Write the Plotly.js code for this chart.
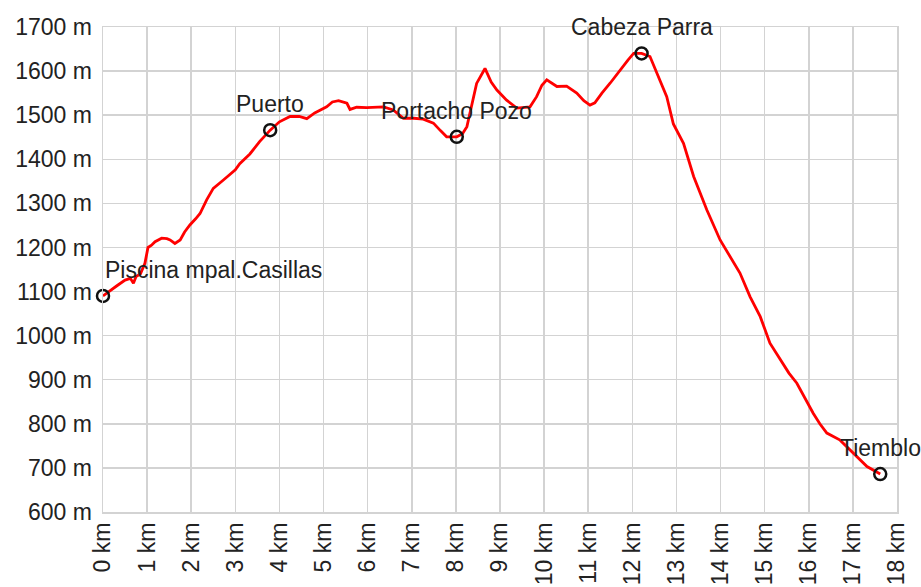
<!DOCTYPE html>
<html>
<head>
<meta charset="utf-8">
<script src="https://cdn.plot.ly/plotly-3.0.1.min.js"></script>
<style>html,body{margin:0;padding:0;background:#fff;}#chart{width:921px;height:587px;}</style>
</head>
<body>
<div id="chart"></div>
<script>
// Elevation profile (distance in km, elevation in m)
const distKm = [0.00,0.15,0.30,0.50,0.62,0.69,0.75,0.85,0.95,1.02,1.10,1.18,1.33,1.45,1.52,1.63,1.75,1.85,1.97,2.10,2.20,2.35,2.50,2.73,3.00,3.10,3.33,3.55,3.79,4.00,4.24,4.45,4.62,4.80,5.07,5.20,5.34,5.53,5.60,5.75,5.98,6.36,6.58,6.81,7.05,7.26,7.49,7.65,7.79,8.02,8.15,8.25,8.36,8.47,8.66,8.80,8.93,9.15,9.38,9.55,9.68,9.83,9.95,10.06,10.20,10.29,10.51,10.74,10.90,11.04,11.15,11.31,11.50,11.72,11.90,12.03,12.21,12.40,12.59,12.78,12.93,13.16,13.39,13.69,13.99,14.20,14.44,14.67,14.90,15.12,15.35,15.55,15.73,15.90,16.10,16.25,16.41,16.71,17.01,17.32,17.62];
const elevM = [1090,1102,1112,1126,1130,1119,1134,1140,1164,1200,1205,1213,1221,1220,1217,1209,1217,1235,1251,1265,1277,1308,1334,1353,1376,1390,1412,1440,1466,1485,1497,1497,1492,1505,1519,1530,1533,1527,1513,1518,1517,1519,1512,1493,1493,1491,1482,1465,1451,1451,1458,1474,1527,1572,1606,1575,1557,1534,1516,1517,1519,1542,1568,1580,1570,1565,1566,1550,1533,1523,1528,1550,1573,1602,1625,1640,1640,1633,1587,1542,1480,1436,1361,1285,1217,1182,1142,1088,1043,983,945,915,892,860,824,800,779,763,733,703,686];

// Waypoints
const wpName = ["Piscina mpal.Casillas","Puerto","Portacho Pozo","Cabeza Parra","Tiemblo"];
const wpDist = [0.00,3.79,8.02,12.21,17.62];
const wpElev = [1090,1466,1451,1640,686];

// Ticks
const xTickVals = [0,1,2,3,4,5,6,7,8,9,10,11,12,13,14,15,16,17,18];
const xTickText = xTickVals.map(v => v + " km");
const yTickVals = [600,700,800,900,1000,1100,1200,1300,1400,1500,1600,1700];
const yTickText = yTickVals.map(v => v + " m");

const fontFam = "Liberation Sans, Arial, sans-serif";

const traces = [
  {x: distKm, y: elevM, mode: "lines", type: "scatter",
   line: {color: "#ff0000", width: 2.8}, hoverinfo: "skip"},
  {x: wpDist, y: wpElev, mode: "markers", type: "scatter",
   marker: {symbol: "circle-open", size: 12, color: "#111", line: {color: "#111", width: 2.5}},
   cliponaxis: false, hoverinfo: "skip"}
];

const annotations = wpName.map((n, i) => ({
  x: wpDist[i], y: wpElev[i], xref: "x", yref: "y", text: n, showarrow: false,
  xanchor: i === 0 ? "left" : "center", yanchor: "middle", yshift: 26,
  font: {family: fontFam, size: 23, color: "#222"}
}));

const layout = {
  width: 921, height: 587,
  margin: {l: 103, r: 24, t: 27, b: 75, pad: 0},
  paper_bgcolor: "#fff", plot_bgcolor: "#fff",
  showlegend: false,
  xaxis: {range: [0, 18], tickvals: xTickVals, ticktext: xTickText, tickangle: -90,
    showgrid: true, gridcolor: "#d3d3d3", gridwidth: 1.5, zeroline: false,
    showline: true, linecolor: "#d3d3d3", linewidth: 1.5, mirror: true,
    ticks: "", ticklen: 6, tickcolor: "rgba(0,0,0,0)",
    tickfont: {family: fontFam, size: 23, color: "#222"}, fixedrange: true},
  yaxis: {range: [600, 1700], tickvals: yTickVals, ticktext: yTickText,
    showgrid: true, gridcolor: "#d3d3d3", gridwidth: 1.5, zeroline: false,
    showline: true, linecolor: "#d3d3d3", linewidth: 1.5, mirror: true,
    ticks: "outside", ticklen: 5, tickcolor: "rgba(0,0,0,0)",
    tickfont: {family: fontFam, size: 23, color: "#222"}, fixedrange: true},
  annotations: annotations
};

Plotly.newPlot("chart", traces, layout, {displayModeBar: false, staticPlot: true});
</script>
</body>
</html>
